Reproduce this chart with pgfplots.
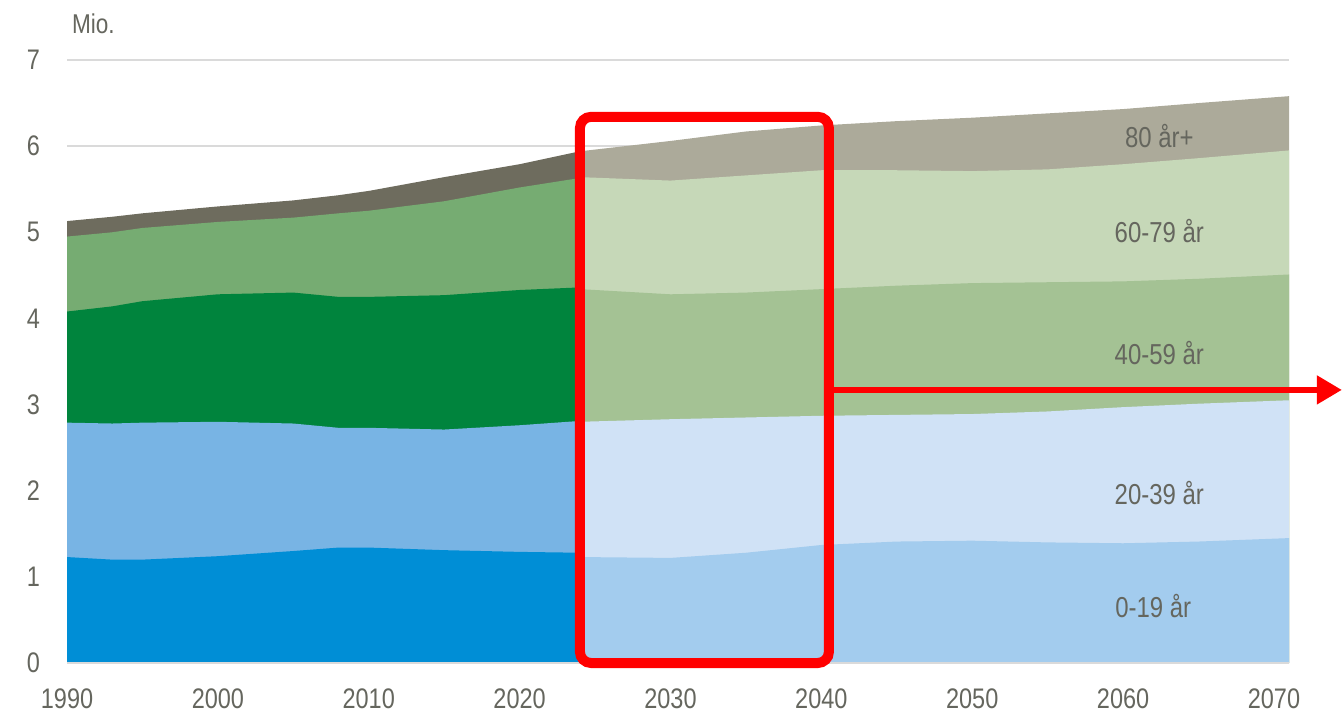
\documentclass[border=0pt]{standalone}
\usepackage{pgfplots}
\pgfplotsset{compat=1.18}
\usepackage{fontspec}
\setmainfont{Liberation Sans}[FakeStretch=0.83]
\usetikzlibrary{arrows.meta}

\definecolor{hA}{HTML}{008ED6}
\definecolor{hB}{HTML}{78B4E4}
\definecolor{hC}{HTML}{00843D}
\definecolor{hD}{HTML}{76AC72}
\definecolor{hE}{HTML}{6E6C5E}
\definecolor{pA}{HTML}{A3CCEE}
\definecolor{pB}{HTML}{D0E2F6}
\definecolor{pC}{HTML}{A4C294}
\definecolor{pD}{HTML}{C6D8B8}
\definecolor{pE}{HTML}{ACAA9A}
\definecolor{txt}{HTML}{65665E}
\definecolor{grd}{HTML}{DADADA}

\begin{document}
\begin{tikzpicture}
\useasboundingbox (-0.849,-0.646) rectangle (16.151,8.399);
\begin{axis}[
    scale only axis,
    width=15.48cm, height=7.639cm,
    xmin=1990, xmax=2071, ymin=0, ymax=7,
    xtick={1990,2000,...,2070},
    ytick={0,1,...,7},
    ymajorgrids=true,
    grid style={grd, line width=0.8pt},
    axis line style={draw=none},
    major tick length=0pt,
    clip=false,
    /pgf/number format/assume math mode=true,
    xticklabel={\pgfmathprintnumber[1000 sep={}]{\tick}},
    tick label style={font=\fontsize{10.2}{12}\selectfont, text=txt},
    yticklabel style={xshift=-0.22cm},
    xticklabel style={yshift=-0.2cm},
  ]
% cumulative tops, historical 1990-2024 (painted from the top layer down)
\addplot[fill=hE, draw=none] coordinates {
  (1990,5.13) (1993,5.18) (1995,5.22) (2000,5.30) (2005,5.37)
  (2008,5.43) (2010,5.48) (2015,5.64) (2020,5.79) (2024,5.94)} \closedcycle;
\addplot[fill=hD, draw=none] coordinates {
  (1990,4.95) (1993,5.00) (1995,5.05) (2000,5.12) (2005,5.17)
  (2008,5.22) (2010,5.25) (2015,5.36) (2020,5.52) (2024,5.63)} \closedcycle;
\addplot[fill=hC, draw=none] coordinates {
  (1990,4.08) (1993,4.14) (1995,4.20) (2000,4.28) (2005,4.30)
  (2008,4.25) (2010,4.25) (2015,4.27) (2020,4.33) (2024,4.36)} \closedcycle;
\addplot[fill=hB, draw=none] coordinates {
  (1990,2.79) (1993,2.78) (1995,2.79) (2000,2.80) (2005,2.78)
  (2008,2.73) (2010,2.73) (2015,2.71) (2020,2.76) (2024,2.81)} \closedcycle;
\addplot[fill=hA, draw=none] coordinates {
  (1990,1.23) (1993,1.20) (1995,1.20) (2000,1.24) (2005,1.30)
  (2008,1.34) (2010,1.34) (2015,1.31) (2020,1.29) (2024,1.28)} \closedcycle;
% cumulative tops, projection 2024-2071
\addplot[fill=pE, draw=none] coordinates {
  (2024,5.94) (2030,6.06) (2035,6.17) (2040,6.24) (2045,6.29)
  (2050,6.33) (2055,6.38) (2060,6.43) (2065,6.50) (2071,6.58)} \closedcycle;
\addplot[fill=pD, draw=none] coordinates {
  (2024,5.64) (2030,5.60) (2035,5.66) (2040,5.72) (2045,5.72)
  (2050,5.71) (2055,5.73) (2060,5.79) (2065,5.86) (2071,5.95)} \closedcycle;
\addplot[fill=pC, draw=none] coordinates {
  (2024,4.34) (2030,4.28) (2035,4.30) (2040,4.34) (2045,4.38)
  (2050,4.41) (2055,4.42) (2060,4.43) (2065,4.46) (2071,4.51)} \closedcycle;
\addplot[fill=pB, draw=none] coordinates {
  (2024,2.80) (2030,2.83) (2035,2.85) (2040,2.87) (2045,2.88)
  (2050,2.89) (2055,2.92) (2060,2.97) (2065,3.01) (2071,3.05)} \closedcycle;
\addplot[fill=pA, draw=none] coordinates {
  (2024,1.23) (2030,1.22) (2035,1.28) (2040,1.37) (2045,1.41)
  (2050,1.42) (2055,1.40) (2060,1.39) (2065,1.41) (2071,1.45)} \closedcycle;

\draw[grd, line width=0.8pt] (axis cs:1990,0) -- (axis cs:2071,0);

\begin{scope}[font=\fontsize{10.4}{13}\selectfont, text=txt]
  \node at (axis cs:2062.4,6.12) {80 år+};
  \node at (axis cs:2062.4,5.01) {60-79 år};
  \node at (axis cs:2062.4,3.60) {40-59 år};
  \node at (axis cs:2062.4,1.97) {20-39 år};
  \node at (axis cs:2062.0,0.66) {0-19 år};
\end{scope}
\node[anchor=west, text=txt, font=\fontsize{9.8}{11}\selectfont, inner sep=0pt]
  at (axis cs:1990.3,7.42) {Mio.};

% red highlight
\draw[red, line width=3.6pt, rounded corners=4pt]
  (axis cs:2024.0,0.0) rectangle (axis cs:2040.5,6.34);
\draw[red, line width=2pt, -{Triangle[length=9pt, width=10pt]}]
  (axis cs:2040.7,3.17) -- (axis cs:2074.5,3.17);
\end{axis}
\end{tikzpicture}
\end{document}
